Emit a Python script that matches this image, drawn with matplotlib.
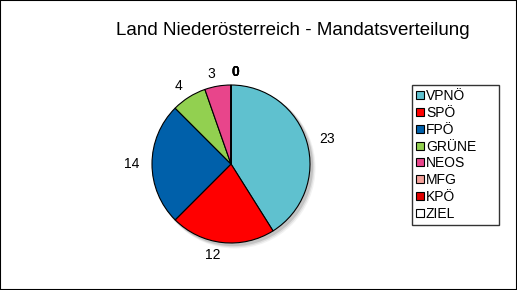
import matplotlib.pyplot as plt
from matplotlib.patches import Circle, Rectangle
from matplotlib.lines import Line2D

parties = ['VPNÖ', 'SPÖ', 'FPÖ', 'GRÜNE', 'NEOS', 'MFG', 'KPÖ', 'ZIEL']
mandate = [23, 12, 14, 4, 3, 0, 0, 0]
farben = ['#5FC1CF', '#FF0000', '#0060AA', '#92D050', '#E8458B', '#F4A19B', '#E00000', '#FFFFFF']

plt.rcParams['font.family'] = ['Liberation Sans', 'DejaVu Sans']

fig = plt.figure(figsize=(5.17, 2.90), dpi=100)
fig.patches.append(Rectangle((0, 0), 1, 1, transform=fig.transFigure, fill=False,
                             edgecolor='black', linewidth=1.5))

fig.text(0.567, 0.895, 'Land Niederösterreich - Mandatsverteilung', ha='center', va='center',
         fontsize=13.5)

# Tortendiagramm, Radius 1 = 79 px
ax = fig.add_axes([(231 - 100) / 517, (126 - 100) / 290, 200 / 517, 200 / 290])
lim = 100 / 79

# weicher Schatten
for i, a in enumerate([0.05, 0.08, 0.12]):
    ax.add_patch(Circle((0.05 - i * 0.01, -0.05 + i * 0.01), 1.02 - i * 0.005,
                        color='black', alpha=a, linewidth=0, zorder=0))

wedges, texts = ax.pie(mandate, colors=farben, startangle=90, counterclock=False,
                       labels=[str(m) for m in mandate], labeldistance=1.16,
                       wedgeprops=dict(edgecolor='black', linewidth=0.8),
                       textprops=dict(fontsize=10), radius=1, frame=True)
ax.set_xlim(-lim, lim)
ax.set_ylim(-lim, lim)
ax.axis('off')
for t, m in zip(texts, mandate):
    if m == 0:
        t.set_fontweight('bold')

handles = [Line2D([], [], marker='s', linestyle='none', markersize=6,
                  markerfacecolor=c, markeredgecolor='black', markeredgewidth=0.8)
           for c in farben]
leg = fig.legend(handles, parties, loc='upper left', mode='expand',
                 bbox_to_anchor=(412 / 517, 1 - 85 / 290, 87 / 517, 0),
                 fontsize=10, frameon=True, fancybox=False, edgecolor='black',
                 handlelength=0.6, handletextpad=0.1, labelspacing=0.2,
                 borderpad=0.3, borderaxespad=0)
leg.get_frame().set_linewidth(1.0)

fig.savefig('out.png', dpi=100)
